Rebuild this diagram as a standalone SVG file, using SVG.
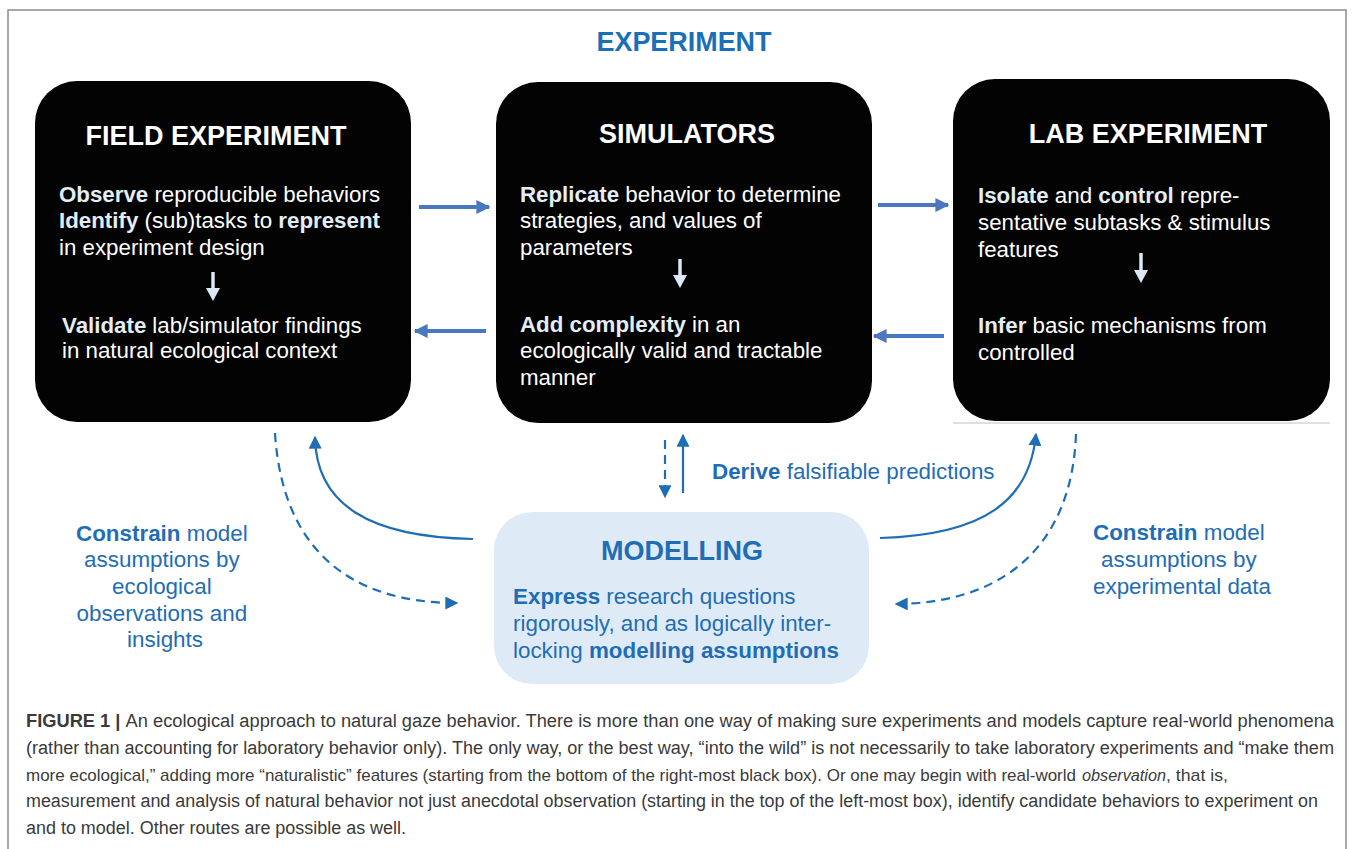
<svg xmlns="http://www.w3.org/2000/svg" width="1354" height="849" viewBox="0 0 1354 849">
<style>
.title{font-family:"Liberation Sans",Arial,sans-serif;font-weight:bold;font-size:27px}
.wt{font-family:"Liberation Sans",Arial,sans-serif;font-size:22.3px;fill:#ffffff}
.wb{font-weight:bold;fill:#e4edf7}
.bt{font-family:"Liberation Sans",Arial,sans-serif;font-size:22.4px;fill:#1f6db5}
.b{font-weight:bold}
.cap{font-family:"Liberation Sans",Arial,sans-serif;font-size:18px;fill:#3a3a3a}
.cap3{font-size:17px}
.box{fill:#030303}
.harrow{stroke:#4a78c0;stroke-width:4;fill:none}
.conn{stroke:#1f6db5;stroke-width:2.2;fill:none}
.dash{stroke-dasharray:9,6}
.inarrow{stroke:#dde8f4;stroke-width:3.5}
</style>
<defs>
<marker id="mh" markerUnits="userSpaceOnUse" markerWidth="14" markerHeight="14" viewBox="0 0 10 10" refX="9" refY="5" orient="auto">
<path d="M0,0 L10,5 L0,10 z" fill="#4a78c0"/>
</marker>
<marker id="mb" markerUnits="userSpaceOnUse" markerWidth="13" markerHeight="13" viewBox="0 0 10 10" refX="9" refY="5" orient="auto">
<path d="M0,0 L10,5 L0,10 z" fill="#1f6db5"/>
</marker>
</defs>
<rect x="0" y="0" width="1354" height="849" fill="#ffffff"/>
<path d="M8,849 V10 H1346 V849" fill="none" stroke="#8c8c8c" stroke-width="1.5"/>
<text class="title" x="684" y="51" text-anchor="middle" fill="#1a6fb8" textLength="175" lengthAdjust="spacingAndGlyphs">EXPERIMENT</text>

<g id="field">
<rect class="box" x="35" y="81" width="376" height="341" rx="42"/>
<text class="title" x="216" y="145" text-anchor="middle" fill="#ffffff">FIELD EXPERIMENT</text>
<text class="wt" x="59" y="202"><tspan class="wb">Observe</tspan> reproducible behaviors</text>
<text class="wt" x="59" y="228"><tspan class="wb">Identify</tspan> (sub)tasks to <tspan class="wb">represent</tspan></text>
<text class="wt" x="59" y="255">in experiment design</text>
<line class="inarrow" x1="213" y1="272" x2="213" y2="290"/>
<path d="M206,288 L220,288 L213,301 z" fill="#dde8f4"/>
<text class="wt" x="62" y="333"><tspan class="wb">Validate</tspan><tspan dx="6">lab/simulator findings</tspan></text>
<text class="wt" x="62" y="358">in natural ecological context</text>
</g>

<g id="simulators">
<rect class="box" x="496" y="82" width="376" height="341" rx="42"/>
<text class="title" x="687" y="143" text-anchor="middle" fill="#ffffff">SIMULATORS</text>
<text class="wt" x="520" y="202"><tspan class="wb">Replicate</tspan> behavior to determine</text>
<text class="wt" x="520" y="228">strategies, and values of</text>
<text class="wt" x="520" y="255">parameters</text>
<line class="inarrow" x1="680" y1="259" x2="680" y2="277"/>
<path d="M673,275 L687,275 L680,288 z" fill="#dde8f4"/>
<text class="wt" x="520" y="332"><tspan class="wb">Add complexity</tspan><tspan dx="6">in an</tspan></text>
<text class="wt" x="520" y="358">ecologically valid and tractable</text>
<text class="wt" x="520" y="385">manner</text>
</g>

<g id="lab">
<line x1="953" y1="423" x2="1330" y2="423" stroke="#d4d4d4" stroke-width="1.5"/>
<rect class="box" x="953" y="79" width="377" height="342" rx="42"/>
<text class="title" x="1148" y="143" text-anchor="middle" fill="#ffffff">LAB EXPERIMENT</text>
<text class="wt" x="978" y="203"><tspan class="wb">Isolate</tspan> and <tspan class="wb">control</tspan> repre-</text>
<text class="wt" x="978" y="230">sentative subtasks &amp; stimulus</text>
<text class="wt" x="978" y="257">features</text>
<line class="inarrow" x1="1141" y1="253" x2="1141" y2="271"/>
<path d="M1134,270 L1148,270 L1141,283 z" fill="#dde8f4"/>
<text class="wt" x="978" y="333"><tspan class="wb">Infer</tspan> basic mechanisms from</text>
<text class="wt" x="978" y="360">controlled</text>
</g>

<g id="modelling">
<rect x="494" y="512" width="375" height="172" rx="38" fill="#deebf7"/>
<text class="title" x="682" y="560" text-anchor="middle" fill="#1f6db5">MODELLING</text>
<text class="bt" x="513" y="604"><tspan class="b">Express</tspan> research questions</text>
<text class="bt" x="513" y="631">rigorously, and as logically inter-</text>
<text class="bt" x="513" y="658">locking <tspan class="b">modelling assumptions</tspan></text>
</g>

<g id="label-left">
<text class="bt" text-anchor="middle">
<tspan x="165" y="541"><tspan class="b">Constrain</tspan> model</tspan>
<tspan x="165" y="567">assumptions by</tspan>
<tspan x="165" y="594">ecological</tspan>
<tspan x="165" y="621">observations and</tspan>
<tspan x="165" y="647">insights</tspan>
</text>
</g>

<g id="label-right">
<text class="bt" text-anchor="middle">
<tspan x="1182" y="540"><tspan class="b">Constrain</tspan> model</tspan>
<tspan x="1182" y="567">assumptions by</tspan>
<tspan x="1182" y="594">experimental data</tspan>
</text>
</g>

<g id="label-derive">
<text class="bt" x="712" y="479"><tspan class="b">Derive</tspan> falsifiable predictions</text>
</g>

<g id="connectors">
<line class="harrow" x1="419" y1="207" x2="489" y2="207" marker-end="url(#mh)"/>
<line class="harrow" x1="486" y1="331" x2="415" y2="331" marker-end="url(#mh)"/>
<line class="harrow" x1="878" y1="205" x2="948" y2="205" marker-end="url(#mh)"/>
<line class="harrow" x1="944" y1="336" x2="874" y2="336" marker-end="url(#mh)"/>
<path class="conn dash" d="M275,433 C282,545 345,603 457,603" marker-end="url(#mb)"/>
<path class="conn" d="M473,539 C370,537 316,505 315,437" marker-end="url(#mb)"/>
<line class="conn dash" x1="665" y1="440" x2="665" y2="497" marker-end="url(#mb)"/>
<line class="conn" x1="683" y1="493" x2="683" y2="435" marker-end="url(#mb)"/>
<path class="conn" d="M880,538 C985,535 1030,500 1036,434" marker-end="url(#mb)"/>
<path class="conn dash" d="M1076,434 C1072,540 1010,603 896,604" marker-end="url(#mb)"/>
</g>

<g id="caption">
<text class="cap" x="26" y="727" textLength="1308" lengthAdjust="spacingAndGlyphs"><tspan font-weight="bold">FIGURE 1</tspan><tspan dx="5" font-weight="bold">|</tspan><tspan dx="5">An ecological approach to natural gaze behavior. There is more than one way of making sure experiments and models capture real-world phenomena</tspan></text>
<text class="cap" x="26" y="754" textLength="1308" lengthAdjust="spacingAndGlyphs">(rather than accounting for laboratory behavior only). The only way, or the best way, “into the wild” is not necessarily to take laboratory experiments and “make them</text>
<text class="cap cap3" x="26" y="781" textLength="1050" lengthAdjust="spacingAndGlyphs">more ecological,” adding more “naturalistic” features (starting from the bottom of the right-most black box). Or one may begin with real-world</text>
<text class="cap cap3" x="1082" y="781" font-style="italic" textLength="84" lengthAdjust="spacingAndGlyphs">observation</text>
<text class="cap cap3" x="1166" y="781" textLength="62" lengthAdjust="spacingAndGlyphs">, that is,</text>
<text class="cap" x="26" y="807" textLength="1292" lengthAdjust="spacingAndGlyphs">measurement and analysis of natural behavior not just anecdotal observation (starting in the top of the left-most box), identify candidate behaviors to experiment on</text>
<text class="cap" x="26" y="834" textLength="380" lengthAdjust="spacingAndGlyphs">and to model. Other routes are possible as well.</text>
</g>
</svg>
